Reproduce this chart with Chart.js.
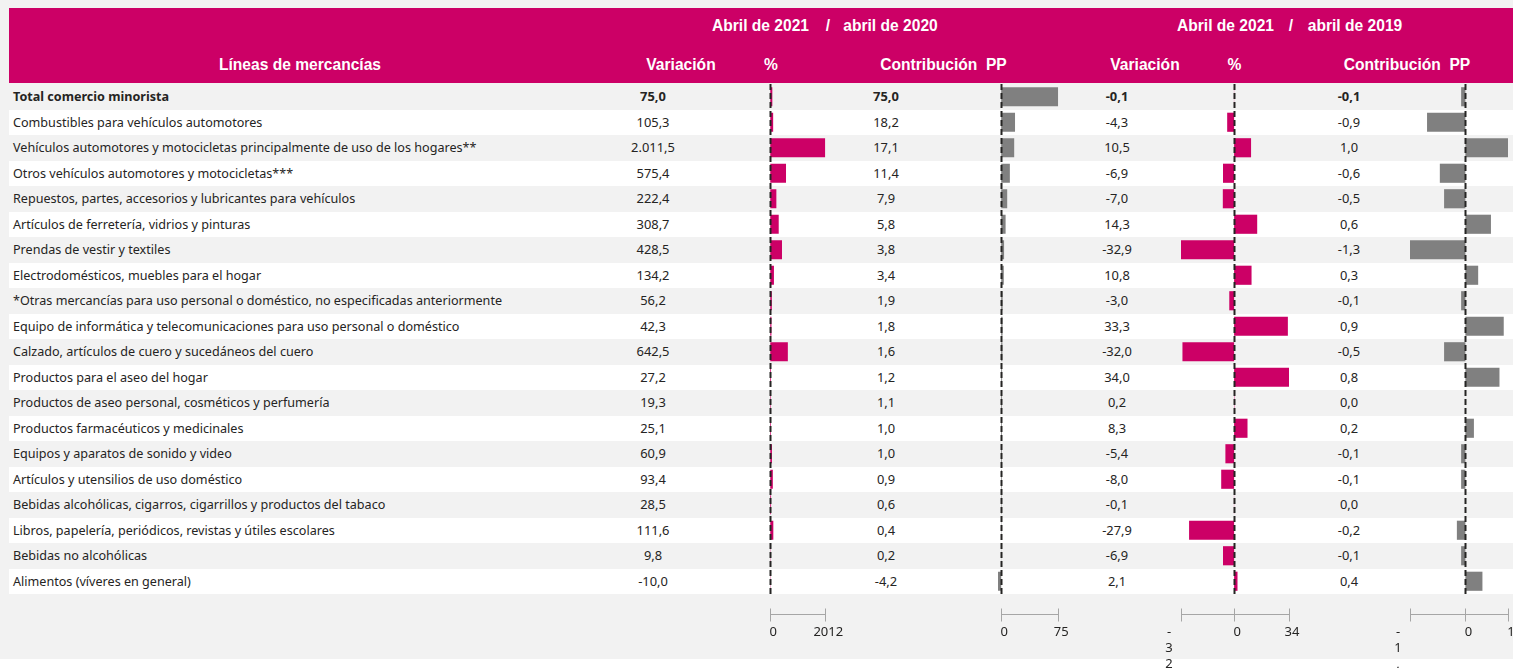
<!DOCTYPE html>
<html>
<head>
<meta charset="utf-8">
<script src="https://cdn.jsdelivr.net/npm/chart.js@4.4.1/dist/chart.umd.min.js"></script>
<style>
  html, body { margin: 0; padding: 0; background: #ffffff; width: 1513px; height: 668px; overflow: hidden; }
  #panel { position: absolute; left: 0; top: 0; width: 1513px; height: 659px; background: #f2f2f2; }
  #header { position: absolute; left: 9px; top: 8px; width: 1504px; height: 75px; background: #cc0066; }
  .h { position: absolute; color: #ffffff; font-family: "Liberation Sans", Arial, sans-serif; font-weight: bold; font-size: 15.6px; white-space: pre; line-height: 18px; transform: translateX(-50%); }
  .row { position: absolute; left: 9px; width: 1504px; height: 25.5px; }
  .cell { position: absolute; top: 0; height: 25.5px; line-height: 25.5px; font-family: "Noto Sans", "Open Sans", sans-serif; font-size: 12.6px; color: #252423; white-space: nowrap; }
  .num { transform: translateX(-50%); }
  canvas { position: absolute; }
</style>
</head>
<body>
<div id="panel"></div>
<div id="header"></div>
<div id="rows"></div>
<script>
// ---------------- DATA ----------------
const categories = [
  "Total comercio minorista",
  "Combustibles para vehículos automotores",
  "Vehículos automotores y motocicletas principalmente de uso de los hogares**",
  "Otros vehículos automotores y motocicletas***",
  "Repuestos, partes, accesorios y lubricantes para vehículos",
  "Artículos de ferretería, vidrios y pinturas",
  "Prendas de vestir y textiles",
  "Electrodomésticos, muebles para el hogar",
  "*Otras mercancías para uso personal o doméstico, no especificadas anteriormente",
  "Equipo de informática y telecomunicaciones para uso personal o doméstico",
  "Calzado, artículos de cuero y sucedáneos del cuero",
  "Productos para el aseo del hogar",
  "Productos de aseo personal, cosméticos y perfumería",
  "Productos farmacéuticos y medicinales",
  "Equipos y aparatos de sonido y video",
  "Artículos y utensilios de uso doméstico",
  "Bebidas alcohólicas, cigarros, cigarrillos y productos del tabaco",
  "Libros, papelería, periódicos, revistas y útiles escolares",
  "Bebidas no alcohólicas",
  "Alimentos (víveres en general)"
];
const variacion2020 = [75.0, 105.3, 2011.5, 575.4, 222.4, 308.7, 428.5, 134.2, 56.2, 42.3, 642.5, 27.2, 19.3, 25.1, 60.9, 93.4, 28.5, 111.6, 9.8, -10.0];
const contribucion2020 = [75.0, 18.2, 17.1, 11.4, 7.9, 5.8, 3.8, 3.4, 1.9, 1.8, 1.6, 1.2, 1.1, 1.0, 1.0, 0.9, 0.6, 0.4, 0.2, -4.2];
const variacion2019 = [-0.1, -4.3, 10.5, -6.9, -7.0, 14.3, -32.9, 10.8, -3.0, 33.3, -32.0, 34.0, 0.2, 8.3, -5.4, -8.0, -0.1, -27.9, -6.9, 2.1];
const contribucion2019 = [-0.1, -0.9, 1.0, -0.6, -0.5, 0.6, -1.3, 0.3, -0.1, 0.9, -0.5, 0.8, 0.0, 0.2, -0.1, -0.1, 0.0, -0.2, -0.1, 0.4];

// axis ranges and ruler ticks per bar column
const axisMin = [-10, -4.2, -32.9, -1.3];
const axisMax = [2012, 75, 34, 1.0];
const tickValues1 = [0, 2012];
const tickValues2 = [0, 75];
const tickValues3 = [-32.9, 0, 34];
const tickValues4 = [-1.3, 0, 1];
const tickLabels1 = ["0", "2012"];
const tickLabels2 = ["0", "75"];
const tickLabels3 = ["-32,9", "0", "34"];
const tickLabels4 = ["-1,3", "0", "1"];

const periodFrom = "Abril de 2021";
const periodTo1 = "abril de 2020";
const periodTo2 = "abril de 2019";
const headerLines = "Líneas de mercancías";
const headerVar = "Variación";
const headerPct = "%";
const headerContrib = "Contribución  PP";

// ---------------- LAYOUT (styles only) ----------------
const MAGENTA = "#cc0066";
const GRAY = "#808080";
const ROW_TOP = 84, ROW_H = 25.5;
const numCenters = [653, 886, 1117, 1349];
// chart-area pixel extents for each bar column
const areas = [
  { left: 769.7, right: 825 },
  { left: 997.8, right: 1058 },
  { left: 1181, right: 1289 },
  { left: 1410, right: 1508 }
];

// ---------------- HEADER ----------------
function addH(text, center, top) {
  const d = document.createElement("div");
  d.className = "h"; d.textContent = text;
  d.style.left = center + "px"; d.style.top = top + "px";
  document.body.appendChild(d);
}
addH(periodFrom, 760.5, 17);
addH("/", 828, 17);
addH(periodTo1, 890.5, 17);
addH(periodFrom, 1225.5, 17);
addH("/", 1291, 17);
addH(periodTo2, 1355, 17);
addH(headerLines, 300, 56);
addH(headerVar, 681, 56);
addH(headerPct, 771, 56);
addH(headerContrib, 943.5, 56);
addH(headerVar, 1145, 56);
addH(headerPct, 1234.5, 56);
addH(headerContrib, 1407, 56);

// ---------------- ROWS ----------------
function fmtNum(v) {
  const neg = v < 0;
  let a = Math.abs(v).toFixed(1).split(".");
  let intPart = a[0].replace(/\B(?=(\d{3})+(?!\d))/g, ".");
  return (neg ? "-" : "") + intPart + "," + a[1];
}
const rowsDiv = document.getElementById("rows");
const cols = [variacion2020, contribucion2020, variacion2019, contribucion2019];
categories.forEach((c, i) => {
  const r = document.createElement("div");
  r.className = "row";
  r.style.top = (ROW_TOP + i * ROW_H) + "px";
  r.style.background = i % 2 === 0 ? "#f2f2f2" : "#ffffff";
  const bold = i === 0 ? "font-weight:bold;" : "";
  let html = `<div class="cell" style="left:4px;${bold}">${c}</div>`;
  cols.forEach((arr, k) => {
    html += `<div class="cell num" style="left:${numCenters[k] - 9}px;${bold}font-size:12.9px;">${fmtNum(arr[i])}</div>`;
  });
  r.innerHTML = html;
  rowsDiv.appendChild(r);
});

// ---------------- CHARTS ----------------
const PAD = 40;
const CANVAS_TOP = ROW_TOP;
const CANVAS_H = 668 - ROW_TOP;
const AREA_H = ROW_H * categories.length;

const rulerPlugin = {
  id: "ruler",
  afterDatasetsDraw(chart, args, opts) {
    const ctx = chart.ctx, x = chart.scales.x, ca = chart.chartArea;
    const x0 = Math.round(x.getPixelForValue(0)) + 0.5;
    ctx.save();
    ctx.strokeStyle = "#252423";
    ctx.lineWidth = 2;
    ctx.setLineDash([6, 3]);
    ctx.beginPath();
    ctx.moveTo(x0, ca.top);
    ctx.lineTo(x0, ca.bottom);
    ctx.stroke();
    ctx.setLineDash([]);
    // ruler
    const ry = ca.bottom + 20.5;
    const tv = opts.ticks, tl = opts.labels;
    const xa = x.getPixelForValue(tv[0]), xb = x.getPixelForValue(tv[tv.length - 1]);
    ctx.strokeStyle = "#a6a6a6";
    ctx.lineWidth = 1;
    ctx.beginPath();
    ctx.moveTo(xa, ry); ctx.lineTo(xb, ry);
    tv.forEach(v => {
      const px = Math.round(x.getPixelForValue(v)) + 0.5;
      ctx.moveTo(px, ry - 6); ctx.lineTo(px, ry + 7);
    });
    ctx.stroke();
    ctx.fillStyle = "#252423";
    ctx.font = '13px "Noto Sans", "Open Sans", sans-serif';
    ctx.textAlign = "center";
    ctx.textBaseline = "middle";
    tv.forEach((v, j) => {
      const px = x.getPixelForValue(v);
      const lab = tl[j];
      if (v < 0) {
        // label wraps character by character in narrow space
        lab.split("").forEach((ch, m) => ctx.fillText(ch, px - 12, ry + 18 + m * 16));
      } else {
        ctx.fillText(lab, px + 3, ry + 18);
      }
    });
    ctx.restore();
  }
};

function makeChart(k, data, color, ticks, labels) {
  const a = areas[k];
  const cv = document.createElement("canvas");
  const left = a.left - PAD;
  const w = (a.right - a.left) + 2 * PAD;
  cv.width = Math.ceil(w);
  cv.height = CANVAS_H;
  cv.style.left = left + "px";
  cv.style.top = CANVAS_TOP + "px";
  cv.style.width = Math.ceil(w) + "px";
  cv.style.height = CANVAS_H + "px";
  document.body.appendChild(cv);
  new Chart(cv, {
    type: "bar",
    data: {
      labels: categories,
      datasets: [{ data: data, backgroundColor: color, borderWidth: 0, barPercentage: 0.75, categoryPercentage: 1.0 }]
    },
    options: {
      indexAxis: "y",
      responsive: false,
      animation: false,
      devicePixelRatio: 1,
      layout: { padding: { left: PAD, right: Math.ceil(w) - PAD - (a.right - a.left), top: 0, bottom: CANVAS_H - AREA_H } },
      plugins: { legend: { display: false }, tooltip: { enabled: false }, ruler: { ticks: ticks, labels: labels } },
      scales: {
        x: { type: "linear", min: axisMin[k], max: axisMax[k], display: false },
        y: { type: "category", display: false, offset: true }
      }
    },
    plugins: [rulerPlugin]
  });
}
makeChart(0, variacion2020, MAGENTA, tickValues1, tickLabels1);
makeChart(1, contribucion2020, GRAY, tickValues2, tickLabels2);
makeChart(2, variacion2019, MAGENTA, tickValues3, tickLabels3);
makeChart(3, contribucion2019, GRAY, tickValues4, tickLabels4);
</script>
</body>
</html>
